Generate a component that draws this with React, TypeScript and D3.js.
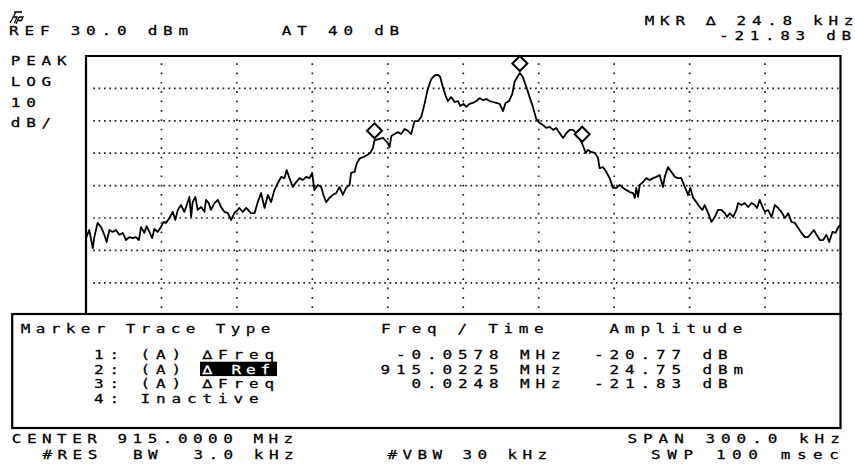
import React from 'react'
import * as d3 from 'd3'

// trace A: offset from centre (kHz) and level (dBm)
const traceFreqKHz = [
  -150.0, -148.7, -147.3, -146.7, -145.4, -144.0, -142.7, -141.8, -140.7, -139.4,
  -138.1, -136.7, -135.4, -134.1, -132.8, -131.4, -130.1, -129.0, -128.1, -126.8,
  -125.9, -124.8, -123.7, -122.8, -121.5, -120.2, -119.2, -118.2, -116.8, -115.5,
  -114.5, -113.5, -112.2, -110.9, -110.2, -108.9, -108.2, -107.6, -106.5, -105.6,
  -104.2, -102.9, -102.3, -101.2, -100.3, -98.9, -97.6, -96.3, -95.0, -93.6,
  -92.3, -91.0, -89.7,
  -89.0, -87.7, -86.3, -84.4, -83.0, -81.7, -80.4, -79.0, -77.7, -76.4,
  -75.1, -73.7, -72.4, -71.1, -70.2, -69.1, -67.8, -66.4, -65.1, -63.8,
  -62.5, -61.1, -60.1, -59.2, -57.8, -56.5, -55.6, -54.5, -53.2, -51.9,
  -50.5, -49.2, -47.9, -46.6, -45.2, -44.6, -43.2, -42.3, -41.0, -39.7,
  -38.3, -37.0, -35.9, -35.3, -31.9, -30.0,
  -29.3, -28.6, -27.3, -26.0, -24.7, -23.3, -22.0, -20.7, -19.4, -18.0,
  -16.7, -15.4, -14.1, -12.7, -11.4, -10.1, -9.2, -8.1, -7.0, -6.1,
  -4.8, -3.4, -2.1, -1.2, 0.1, 1.2, 2.5, 3.8, 5.2, 6.5,
  7.8, 9.2, 10.5, 11.8, 13.1, 14.5, 15.8, 16.8, 18.2, 19.5,
  20.4, 21.5, 22.5, 23.7, 25.1, 26.4, 27.7, 29.0,
  30.4, 31.7, 33.0, 34.4, 35.7, 37.0, 38.3, 39.7, 41.0, 42.3,
  43.6, 45.0, 47.3, 48.7, 49.6, 50.9, 52.3, 53.6, 54.2, 55.6,
  56.9, 58.2, 59.6, 60.9, 62.2, 63.5, 64.9, 66.2, 67.5, 68.2,
  68.8, 69.5, 70.2, 71.5, 72.8, 74.1, 75.5, 76.8, 78.1, 79.4,
  80.1, 81.4, 82.8, 84.1, 85.4, 86.7, 88.1, 89.4,
  90.3, 91.4, 92.7, 94.0, 95.1, 96.0, 97.4, 98.7, 100.0, 101.3,
  102.7, 104.0, 104.9, 106.0, 107.3, 108.6, 109.3, 110.6, 111.9, 113.3,
  114.6, 115.9, 116.8, 117.9, 119.0, 119.9, 121.2, 122.6, 123.9, 125.2,
  126.5, 127.9, 129.2, 130.5, 131.8, 133.2, 134.5, 135.8, 137.1, 138.5,
  139.4, 140.5, 141.8, 143.1, 144.4, 145.5, 146.8, 148.1, 149.1, 150.0
]
const traceAmpDbm = [
  -26.2, -23.7, -29.3, -25.9, -21.5, -22.8, -25.2, -27.4, -23.7, -24.3,
  -23.7, -25.2, -24.6, -26.8, -25.9, -26.2, -25.9, -26.8, -22.8, -24.6,
  -22.5, -24.3, -26.2, -23.4, -24.3, -22.8, -21.2, -21.5, -20.0, -18.1,
  -20.6, -17.5, -16.0, -18.1, -16.6, -13.5, -19.7, -15.1, -13.5, -17.5,
  -16.6, -18.1, -14.4, -15.4, -17.5, -15.4, -14.4, -16.6, -18.1, -18.5,
  -20.6, -18.5, -17.5,
  -16.9, -18.1, -16.9, -18.5, -18.5, -15.1, -12.3, -16.9, -12.9, -15.1,
  -11.4, -9.2, -7.3, -7.7, -5.2, -7.7, -10.4, -8.9, -7.7, -8.3,
  -7.3, -7.7, -6.1, -11.4, -9.8, -10.4, -12.9, -15.1, -13.8, -12.9,
  -12.3, -10.4, -12.9, -10.7, -9.8, -6.1, -5.8, -3.0, -1.5, -1.2,
  -0.6, 0.1, 1.6, 3.98, 4.7, 3.1,
  1.9, 5.3, 5.9, 6.5, 5.9, 7.5, 6.9, 5.9, 9.9, 9.9,
  11.2, 15.2, 19.8, 22.9, 24.0, 24.2, 23.6, 20.4, 17.7, 16.1,
  17.3, 15.8, 16.1, 14.6, 15.2, 14.3, 15.2, 15.5, 16.1, 17.0,
  16.4, 16.7, 16.1, 15.8, 15.5, 15.2, 13.0, 15.5, 16.1, 18.3,
  22.0, 23.5, 24.75, 23.5, 20.4, 17.3, 14.3, 10.6,
  9.3, 8.7, 7.8, 8.1, 7.2, 7.8, 6.2, 4.7, 6.2, 7.2,
  7.2, 6.2, 2.92, 0.1, 1.0, 0.4, 0.1, -1.5, -4.6, -4.3,
  -5.8, -7.7, -10.7, -10.7, -9.8, -10.7, -11.4, -12.0, -12.3, -13.8,
  -10.7, -13.5, -9.8, -8.9, -7.7, -8.3, -7.7, -7.3, -6.7, -10.4,
  -7.3, -4.3, -5.8, -7.3, -7.7, -7.7, -10.4, -12.9,
  -10.7, -13.8, -15.1, -16.6, -17.5, -16.0, -18.5, -21.2, -19.7, -17.5,
  -17.5, -18.5, -19.7, -18.5, -19.7, -17.5, -15.4, -16.0, -15.4, -16.6,
  -15.4, -16.0, -16.9, -14.4, -16.6, -18.1, -17.5, -19.7, -16.0, -16.9,
  -18.1, -20.0, -18.5, -21.2, -21.5, -23.1, -24.6, -25.9, -25.9, -24.6,
  -23.7, -25.2, -26.8, -26.8, -25.2, -27.4, -24.3, -24.6, -22.8, -22.2
]

// markers 1..3 (marker 2 is the reference)
const markerFreqKHz = [-35.3, 22.5, 47.3]
const markerAmpDbm = [3.98, 24.75, 2.92]

const refLevel = 30
const dbPerDiv = 10
const yDivs = 8
const xDivs = 10
const spanKHz = 300

const topLeft = ['REF 30.0 dBm', 'AT 40 dB']
const topRight = ['MKR \u2206 24.8 kHz', '-21.83 dB']
const sideLabels = ['PEAK', 'LOG', '10', 'dB/']
const tableHeader = ['Marker Trace Type', 'Freq / Time', 'Amplitude']
const markerIds = ['1:', '2:', '3:', '4:']
const markerTrace = ['(A)', '(A)', '(A)', '']
const markerType = ['\u2206Freq', '\u2206 Ref', '\u2206Freq', 'Inactive']
const markerFreqText = ['-0.0578 MHz', '915.0225 MHz', '0.0248 MHz']
const markerAmpText = ['-20.77 dB', '24.75 dBm', '-21.83 dB']
const footerLeft = ['CENTER 915.0000 MHz', '#RES  BW  3.0 kHz']
const footerMid = '#VBW 30 kHz'
const footerRight = ['SPAN 300.0 kHz', 'SWP 100 msec']

const W = 855
const H = 466
const plot = { left: 86, right: 840.5, top: 56, bottom: 315.2 }
const FS = 12.3
const SX = 1.3
const FONT = "'DejaVu Sans Mono', monospace"

// text on the instrument's character grid: one x per character
function Mono ({ text, x, y, pitch = 15.3, fill = '#000' }: any) {
  const chars = Array.from(text as string)
  const xs = chars.map((_, i) => ((x - 0.9 + i * pitch) / SX).toFixed(2)).join(' ')
  return (
    <text
      transform={`scale(${SX},1)`}
      x={xs}
      y={y}
      fontFamily={FONT}
      fontSize={FS}
      fill={fill}
      stroke={fill}
      strokeWidth={0.25}
      style={{ whiteSpace: 'pre' }}
    >
      {text}
    </text>
  )
}

export default function App () {
  const x = d3.scaleLinear().domain([-spanKHz / 2, spanKHz / 2]).range([plot.left, plot.right])
  const y = d3.scaleLinear()
    .domain([refLevel - yDivs * dbPerDiv, refLevel])
    .range([plot.bottom, plot.top])

  const pts = d3.zip(traceFreqKHz, traceAmpDbm) as [number, number][]
  const line = d3.line<[number, number]>().x(d => x(d[0])).y(d => y(d[1]))

  const xTicks = d3.range(1, xDivs).map(i => -spanKHz / 2 + (i * spanKHz) / xDivs)
  const yTicks = d3.range(1, yDivs).map(i => refLevel - i * dbPerDiv)
  const hPeriod = (plot.right - plot.left) / xDivs / 14

  const rowY = [359.3, 374, 388.5, 403]
  const rp = 15.5

  return (
    <svg width={W} height={H} style={{ position: 'absolute', left: 0, top: 0, background: '#fff' }}>
      <rect width={W} height={H} fill='#fff' />

      {/* hp logo */}
      <g stroke='#000' strokeWidth={1.3} fill='none'>
        <path d='M10,23 L16,12 M14,12 L22,12 M13,17 L17,17 L14.5,23 M19,17 L23,17 L21.5,20.5 L18,20.5 M19,17 L16,24' />
      </g>

      <Mono text={topLeft[0]} x={10} y={35} pitch={15.4} />
      <Mono text={topLeft[1]} x={282.7} y={35} pitch={15.4} />
      <Mono text={topRight[0]} x={645.7} y={25} pitch={15.3} />
      <Mono text={topRight[1]} x={720} y={40} pitch={15.3} />
      {sideLabels.map((s, i) => (
        <Mono key={s} text={s} x={11.7} y={65 + i * 20.8} pitch={15.4} />
      ))}

      {/* graticule */}
      <g stroke='#222' strokeWidth={1.7}>
        {yTicks.map(v => (
          <line key={'h' + v} x1={plot.left + 7.2} x2={plot.right - 2} y1={y(v)} y2={y(v)}
            strokeDasharray={`1.7 ${hPeriod - 1.7}`} />
        ))}
        {xTicks.map(v => (
          <line key={'v' + v} x1={x(v)} x2={x(v)} y1={plot.top + 7.2} y2={plot.bottom - 2}
            strokeDasharray='1.7 7.65' />
        ))}
      </g>
      <path d={`M${plot.left},${plot.bottom} V${plot.top} H${plot.right} V${plot.bottom}`}
        fill='none' stroke='#000' strokeWidth={2.2} />

      {/* trace */}
      <path d={line(pts) || ''} fill='none' stroke='#000' strokeWidth={1.8} strokeLinejoin='round' />

      {/* markers */}
      {markerFreqKHz.map((f, i) => {
        const cx = x(f)
        const cy = y(markerAmpDbm[i]) - 9.5
        const r = 7.5
        return (
          <path key={'m' + i} d={`M${cx},${cy - r} L${cx + r},${cy} L${cx},${cy + r} L${cx - r},${cy} Z`}
            fill='#fff' stroke='#000' strokeWidth={2} />
        )
      })}

      {/* marker table */}
      <rect x={12.2} y={314} width={840.5 - 12.2} height={428 - 314} fill='#fff' stroke='#000' strokeWidth={2.2} />
      <Mono text={tableHeader[0]} x={21.7} y={333.3} pitch={15.0} />
      <Mono text={tableHeader[1]} x={382} y={333.3} pitch={15.3} />
      <Mono text={tableHeader[2]} x={610.5} y={333.3} pitch={15.4} />
      {markerIds.map((id, i) => {
        const hasTrace = markerTrace[i] !== ''
        const typeX = 95 + (hasTrace ? 7 : 3) * rp
        const hi = i === 1
        return (
          <g key={id}>
            <Mono text={id} x={95} y={rowY[i]} pitch={rp} />
            {hasTrace && <Mono text={markerTrace[i]} x={95 + 3 * rp} y={rowY[i]} pitch={rp} />}
            {hi && <rect x={typeX - 3.5} y={rowY[i] - 12.3} width={5 * rp - 0.5} height={14.4} fill='#000' />}
            <Mono text={markerType[i]} x={typeX} y={rowY[i]} pitch={hi ? 14.5 : rp} fill={hi ? '#fff' : '#000'} />
            {i < 3 && (
              <Mono text={markerFreqText[i]} x={552 - (markerFreqText[i].length - 1) * rp} y={rowY[i]} pitch={rp} />
            )}
            {i < 3 && (
              <Mono text={markerAmpText[i]} x={595 + (markerAmpText[i].startsWith('-') ? 0 : rp)} y={rowY[i]} pitch={rp} />
            )}
          </g>
        )
      })}

      {/* footer */}
      <Mono text={footerLeft[0]} x={12.7} y={443.3} pitch={15.1} />
      <Mono text={footerLeft[1]} x={43.3} y={459.3} pitch={15.1} />
      <Mono text={footerMid} x={388.3} y={459.3} pitch={15.0} />
      <Mono text={footerRight[0]} x={628.3} y={443.3} pitch={15.6} />
      <Mono text={footerRight[1]} x={652} y={459.3} pitch={16.2} />
    </svg>
  )
}
